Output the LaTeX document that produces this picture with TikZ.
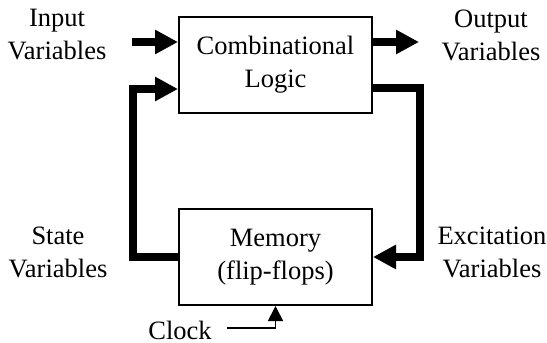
\documentclass[tikz,border=0pt]{standalone}
\usepackage{fontspec}
\setmainfont{Liberation Serif}
\usetikzlibrary{arrows.meta,calc}

\tikzset{
	blk/.style={draw,line width=1pt,minimum width=96.5pt,minimum height=48pt,align=center,inner sep=0pt},
	lbl/.style={align=center,inner sep=1pt},
	bus/.style={line width=4pt,-{Triangle[length=11.5pt,width=11.5pt]}},
	busline/.style={line width=4pt},
	clkarrow/.style={line width=0.9pt,-{Triangle[length=7.5pt,width=7.5pt]}}
}

\begin{document}
\begin{tikzpicture}[x=0.5pt,y=-0.5pt,font=\fontsize{13.25}{16.5}\selectfont]
				\path[use as bounding box] (0,0) rectangle (547,343);
				\node[blk] (comb) at (275.5,65) {Combinational\\Logic};
				\node[blk] (mem) at (275.5,257) {Memory\\(flip-flops)};
				\node[lbl] (inv) at (57,35) {Input\\Variables};
				\node[lbl] (outv) at (491,35) {Output\\Variables};
				\node[lbl] (stv) at (58,252) {State\\Variables};
				\node[lbl] (exv) at (492,252) {Excitation\\Variables};
				\node[lbl] (clk) at (180,330) {Clock};
				\coordinate (in) at (132,42);
				\coordinate (out) at (419,42);
				\coordinate (fbL) at (133,89);
				\coordinate (fbR) at (420,88);
				\coordinate (ck) at (227,328);
				\draw[bus] (in) -- (in -| comb.west);
				\draw[bus] (comb.east |- out) -- (out);
				\draw[bus] (mem.west) -| (fbL) -- (fbL -| comb.west);
				\draw[bus] (comb.east |- fbR) -| (fbR |- mem.east) -- (mem.east);
				\draw[clkarrow] (ck) -| (mem.south);
			\end{tikzpicture}
\end{document}
